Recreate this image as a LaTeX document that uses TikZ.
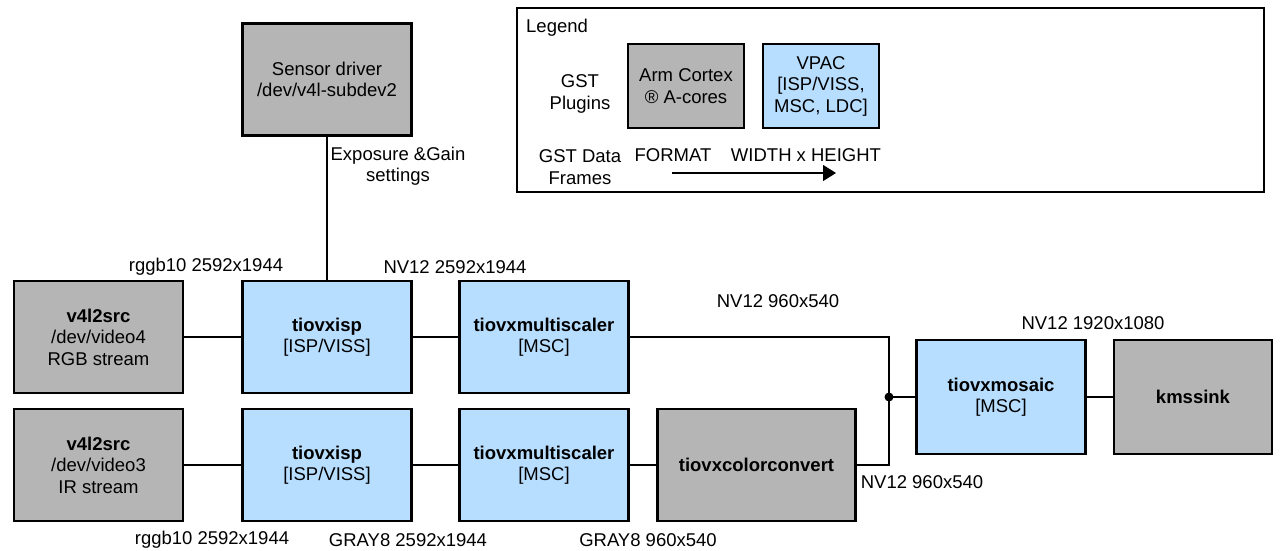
\documentclass[tikz,border=0pt]{standalone}
\usepackage{fontspec}
\setmainfont{Liberation Sans}
\usetikzlibrary{arrows.meta}
\definecolor{armgray}{HTML}{B5B5B5}
\definecolor{vpacblue}{HTML}{B8DEFF}
\newcommand{\diagfont}{\fontsize{18.5}{21.5}\selectfont}
\tikzset{
  every node/.style={font=\diagfont, align=center, text=black},
  plugin/.style={draw=black, line width=2.6pt, rectangle, inner sep=2pt,
                 minimum width=169pt, minimum height=112pt},
  cpu/.style={plugin, fill=armgray},
  vpac/.style={plugin, fill=vpacblue},
  link/.style={draw=black, line width=1.3pt},
  lbl/.style={inner sep=1pt},
}
\begin{document}
\begin{tikzpicture}[x=1pt, y=-1pt]
\useasboundingbox (0,0) rectangle (1284,550);

% ---- legend ----
\node[draw=black, line width=2pt, minimum width=747pt, minimum height=184pt] (legend) at (890.5,100) {};
\node[lbl, anchor=west] (legtitle) at (525,28) {Legend};
\node[lbl] (legplug) at (580,94) {GST\\Plugins};
\node[lbl] (legframe) at (580,167) {GST Data\\Frames};
\node[cpu, minimum width=116pt, minimum height=84pt] (legcpu) at (686,86) {Arm Cortex\\® A-cores};
\node[vpac, minimum width=116pt, minimum height=84pt] (legvpac) at (821,86) {VPAC\\{}[ISP/VISS,\\MSC, LDC]};
\node[lbl] (legfmt) at (673,155) {FORMAT};
\node[lbl] (legwh) at (806,155) {WIDTH x HEIGHT};
\coordinate (arrA) at (672,173);
\coordinate (arrB) at (836,173);
\draw[link, -{Triangle[length=13pt,width=16pt]}] (arrA) -- (arrB);

% ---- sensor control ----
\node[cpu] (sensor) at (327,79.5) {Sensor driver\\/dev/v4l-subdev2};

% ---- RGB branch ----
\node[cpu] (srcA) at (98.5,337) {\textbf{v4l2src}\\/dev/video4\\RGB stream};
\node[vpac] (ispA) at (327,337) {\textbf{tiovxisp}\\{}[ISP/VISS]};
\node[vpac] (mscA) at (544,337) {\textbf{tiovxmultiscaler}\\{}[MSC]};

% ---- IR branch ----
\node[cpu] (srcB) at (98.5,465) {\textbf{v4l2src}\\/dev/video3\\IR stream};
\node[vpac] (ispB) at (327,465) {\textbf{tiovxisp}\\{}[ISP/VISS]};
\node[vpac] (mscB) at (544,465) {\textbf{tiovxmultiscaler}\\{}[MSC]};
\node[cpu, minimum width=198pt] (ccB) at (756.5,465) {\textbf{tiovxcolorconvert}};

% ---- output ----
\node[vpac, minimum height=114pt] (mosaic) at (1001,397) {\textbf{tiovxmosaic}\\{}[MSC]};
\node[cpu, minimum width=158pt, minimum height=114pt] (sink) at (1193,397) {\textbf{kmssink}};

\coordinate (join) at (889,397);

% ---- connectors ----
\draw[link] (sensor.south) -- (ispA.north);
\draw[link] (srcA) -- (ispA);
\draw[link] (ispA) -- (mscA);
\draw[link] (srcB) -- (ispB);
\draw[link] (ispB) -- (mscB);
\draw[link] (mscB) -- (ccB);
\draw[link] (mscA.east) -| (join);
\draw[link] (ccB.east) -| (join);
\draw[link] (join) -- (mosaic.west);
\draw[link] (mosaic) -- (sink);
\fill (join) circle (4.5pt);

% ---- data frame labels ----
\node[lbl] (expo) at (398,166) {Exposure \&Gain\\settings};
\node[lbl] (fA1) at (206,267) {rggb10 2592x1944};
\node[lbl] (fA2) at (455,267) {NV12 2592x1944};
\node[lbl] (fA3) at (778,301) {NV12 960x540};
\node[lbl] (fB4) at (922,482) {NV12 960x540};
\node[lbl] (fO) at (1093,323) {NV12 1920x1080};
\node[lbl] (fB1) at (212,540) {rggb10 2592x1944};
\node[lbl] (fB2) at (408,540) {GRAY8 2592x1944};
\node[lbl] (fB3) at (648,540) {GRAY8 960x540};
\end{tikzpicture}
\end{document}
